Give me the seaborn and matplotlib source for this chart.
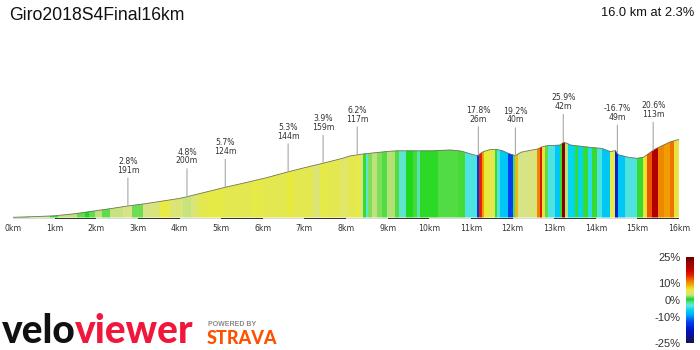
import matplotlib
matplotlib.use("Agg")
import matplotlib.pyplot as plt
from matplotlib.colors import LinearSegmentedColormap
from matplotlib.patches import PathPatch
import numpy as np
import seaborn as sns

# ---------------- data ----------------
title = "Giro2018S4Final16km"
summary = "16.0 km at 2.3%"

dist_km = [0, 0.5, 1.0, 1.5, 2.0, 2.4, 2.76, 3.13, 3.5, 4.0, 4.18, 4.6, 5.1, 5.6, 6.1,
           6.61, 7.0, 7.45, 7.9, 8.1, 8.41, 8.7, 9.0, 9.23, 9.7, 10.1, 10.5, 10.75,
           10.87, 11.0, 11.15, 11.3, 11.45, 11.6, 11.75, 11.9, 12.07, 12.2, 12.4, 12.6,
           12.72, 12.84, 13.0, 13.15, 13.22, 13.3, 13.39, 13.6, 13.87, 14.15, 14.35,
           14.47, 14.55, 14.8, 15.0, 15.15, 15.3, 15.4, 15.63, 15.8, 16.0]
elev_m = [1, 4, 8, 18, 32, 43, 54, 63, 74, 89, 97, 117, 141, 163, 186, 213, 232, 253,
          275, 287, 296, 302, 308, 311, 311, 311, 315, 310, 304, 296, 288, 307, 316,
          318, 312, 299, 288, 304, 312, 319, 330, 335, 336, 338, 350, 347, 338, 333,
          327, 322, 307, 312, 292, 280, 276, 281, 302, 316, 338, 353, 364]

seg_start_km = [0, 0.41, 0.89, 1.08, 1.54, 1.73, 1.83, 1.97, 2.14, 2.33, 2.64, 2.86,
                3.13, 3.37, 3.53, 3.77, 4.09, 4.28, 4.45, 4.66, 5.05, 5.75, 6.01, 6.59,
                6.71, 7.21, 7.38, 7.55, 7.86, 8.05, 8.22, 8.34, 8.41, 8.49, 8.53, 8.63,
                8.75, 8.87, 8.99, 9.18, 9.28, 9.45, 9.62, 9.71, 9.78, 10.22, 10.7, 10.87,
                11.15, 11.2, 11.27, 11.32, 11.47, 11.59, 11.63, 11.71, 11.9, 12.0, 12.07,
                12.14, 12.38, 12.6, 12.67, 12.72, 12.79, 12.86, 13.03, 13.15, 13.2, 13.27,
                13.34, 13.51, 13.58, 13.7, 13.82, 13.92, 14.04, 14.16, 14.35, 14.47,
                14.54, 14.71, 15.0, 15.14, 15.24, 15.36, 15.5, 15.63, 15.79, 15.87, 15.96]
seg_grade = [0.5, 2.2, 0.5, 2.5, 1.0, 0.0, 1.0, 2.5, 1.0, 2.6, 3.0, 1.3,
             3.0, 3.5, 5.2, 3.5, 2.6, 3.5, 4.5, 5.0, 4.6, 5.0, 4.6, 5.5,
             4.6, 3.5, 5.0, 4.5, 3.8, 4.5, 5.0, 3.5, 0.5, -3.0, 1.5, 2.5,
             1.5, 0.8, 2.2, 0.8, -3.0, 0.0, 0.6, -2.0, 0.2, 0.8, 0.6, -4.0,
             -14.0, 14.0, 9.0, 5.5, 4.5, 0.5, -4.0, -7.0, -13.0, -1.0, 8.0,
             3.0, 3.2, 10.0, 15.0, 6.0, 1.0, -4.0, -7.0, 0.5, 22.0, 2.5,
             -6.0, 0.5, -6.0, 0.5, -5.0, 0.5, -4.0, -7.0, 5.0, -16.0,
             -7.0, -4.0, 0.5, 6.0, 12.0, 19.0, 10.0, 9.0, 11.0, 6.0, 4.0]

marker_km = [2.76, 4.18, 5.1, 6.61, 7.45, 8.27, 11.18, 12.07, 13.22, 14.52, 15.38]
marker_pct = ["2.8%", "4.8%", "5.7%", "5.3%", "3.9%", "6.2%", "17.8%", "19.2%",
              "25.9%", "-16.7%", "20.6%"]
marker_len = ["191m", "200m", "124m", "144m", "159m", "117m", "26m", "40m",
              "42m", "49m", "113m"]

km_ticks = list(range(17))
km_labels = [f"{k}km" for k in km_ticks]

cbar_ticks = [25, 10, 0, -10, -25]
cbar_labels = ["25%", "10%", "0%", "-10%", "-25%"]

# ---------------- style ----------------
sns.set_theme(style="white")
plt.rcParams["font.family"] = ["Liberation Sans", "DejaVu Sans"]

stops = [(-25, "#141450"), (-18, "#0010c0"), (-13, "#0040f0"), (-9, "#00a8f8"),
         (-6, "#00d6f0"), (-3.5, "#64e6dc"), (-1.5, "#50e0a0"), (0, "#18d818"),
         (1, "#58dc48"), (2, "#a8e070"), (3, "#d6e488"), (4, "#e2e65e"),
         (5.5, "#e8ec3c"), (7, "#f0d020"), (9, "#f0a000"), (11, "#ee7400"),
         (14, "#e82000"), (17, "#c80000"), (21, "#9a0000"), (25, "#5a0000")]
cmap = LinearSegmentedColormap.from_list(
    "vv", [((v + 25) / 50, c) for v, c in stops])
norm = plt.Normalize(-25, 25)

fig = plt.figure(figsize=(7, 3.5), dpi=100)
fig.patch.set_facecolor("white")

W, H = 700, 350
px_per_m = 1 / 4.66
y_bottom_px, y_top_px = 221, 95
base_px = 217.5
ylo = -(y_bottom_px - base_px) / px_per_m
yhi = (base_px - y_top_px) / px_per_m

ax = fig.add_axes([13 / W, (H - y_bottom_px) / H, 666 / W, (y_bottom_px - y_top_px) / H])
ax.set_xlim(0, 16)
ax.set_ylim(ylo, yhi)
ax.set_facecolor("white")
for s in ax.spines.values():
    s.set_visible(False)

# profile polygon used as a clip path
poly = ax.fill_between(dist_km, 0, elev_m, color="none", lw=0)
clip = PathPatch(poly.get_paths()[0], transform=ax.transData, fc="none", ec="none")
ax.add_patch(clip)

seg_end = seg_start_km[1:] + [16]
widths = [e - s for s, e in zip(seg_start_km, seg_end)]
bars = ax.bar(seg_start_km, 600, width=widths, bottom=0, align="edge",
              color=[cmap(norm(g)) for g in seg_grade], linewidth=0)
for b in bars:
    b.set_clip_path(clip)

sns.lineplot(x=dist_km, y=elev_m, ax=ax, sort=False, color="#5e5e48", lw=0.6,
             alpha=0.85)

# km bar under profile
ax.bar(km_ticks[:-1], -9.0, width=1, bottom=0, align="edge",
       color=["#d9d9d9" if k % 2 == 0 else "#333333" for k in km_ticks[:-1]],
       linewidth=0)

# gradient markers
for km, p, l in zip(marker_km, marker_pct, marker_len):
    e = np.interp(km, dist_km, elev_m)
    ax.annotate(f"{p}\n{l}", xy=(km, e), xytext=(0, 22.5), textcoords="offset points",
                ha="center", va="bottom", fontsize=5.6, color="#333333",
                family="DejaVu Sans", linespacing=0.95,
                arrowprops=dict(arrowstyle="-", color="#a8a8a8", lw=0.8,
                                shrinkA=0, shrinkB=0))

ax.set_xticks(km_ticks)
ax.set_xticklabels(km_labels, family="DejaVu Sans")
ax.tick_params(axis="x", length=0, pad=2.5, labelsize=5.6, labelcolor="#333333")
ax.set_yticks([])
ax.set_ylabel("")
ax.set_xlabel("")

# title and summary
fig.text(9 / W, (H - 20.5) / H, title, ha="left", va="baseline", fontsize=12.7,
         color="#111111")
fig.text(694 / W, (H - 16.5) / H, summary, ha="right", va="baseline", fontsize=9.3,
         color="#111111")

# colour bar
cax = fig.add_axes([686 / W, (H - 343) / H, 8 / W, 86 / H])
grad = np.linspace(25, -25, 256).reshape(-1, 1)
cax.imshow(grad, cmap=cmap, norm=norm, aspect="auto", extent=[0, 1, -25, 25])
cax.set_xticks([])
cax.set_yticks(cbar_ticks)
cax.set_yticklabels(cbar_labels)
cax.yaxis.tick_left()
cax.tick_params(axis="y", length=0, pad=4, labelsize=8, labelcolor="#333333")
for s in cax.spines.values():
    s.set_visible(False)

# logo
fig.canvas.draw()
r = fig.canvas.get_renderer()
t1 = fig.text(2 / W, (H - 343) / H, "velo", ha="left", va="baseline", fontsize=28,
              fontweight="black", family="Lato", color="#111111")
bb = t1.get_window_extent(renderer=r)
fig.text((bb.x1 - 1) / W, (H - 343) / H, "viewer", ha="left", va="baseline",
         fontsize=28, fontweight="black", family="Lato", color="#f0173c")
fig.text(208 / W, (H - 326) / H, "POWERED BY", ha="left", va="baseline", fontsize=5,
         fontweight="bold", color="#8a8a8a")
fig.text(207 / W, (H - 344) / H, "STRAVA", ha="left", va="baseline", fontsize=13,
         fontweight="black", family="Lato", color="#fc5200")

fig.savefig("out.png", dpi=100, facecolor="white")
